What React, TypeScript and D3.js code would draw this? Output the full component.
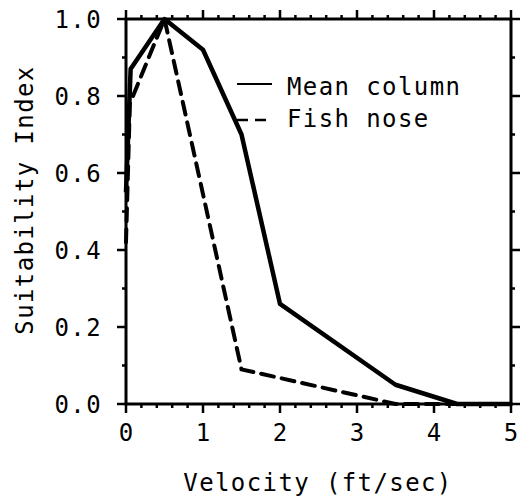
import React from "react";
import * as d3 from "d3";

const meanColumnX = [0, 0.06, 0.5, 1.0, 1.5, 2.0, 3.5, 4.3, 5.0];
const meanColumnY = [0.55, 0.87, 1.0, 0.92, 0.7, 0.26, 0.05, 0.0, 0.0];
const fishNoseX = [0, 0.05, 0.5, 1.5, 3.5, 5.0];
const fishNoseY = [0.42, 0.78, 1.0, 0.09, 0.0, 0.0];
const xMajorTicks = [0, 1, 2, 3, 4, 5];
const yMajorTicks = [0, 0.2, 0.4, 0.6, 0.8, 1.0];
const xMinorTicks = d3.range(0, 5.001, 0.2);
const yMinorTicks = d3.range(0, 1.001, 0.1);
const legendLabels = ["Mean column", "Fish nose"];
const xTitle = "Velocity (ft/sec)";
const yTitle = "Suitability Index";

const FONT = "'DejaVu Sans Mono', monospace";

export default function App() {
  const x = d3.scaleLinear().domain([0, 5]).range([126, 511]);
  const y = d3.scaleLinear().domain([0, 1]).range([404, 19]);
  const line = d3
    .line<[number, number]>()
    .x((d) => x(d[0]))
    .y((d) => y(d[1]));
  const solid = meanColumnX.map((v, i) => [v, meanColumnY[i]] as [number, number]);
  const dashed = fishNoseX.map((v, i) => [v, fishNoseY[i]] as [number, number]);
  const [x0, x1] = x.range();
  const [y0, y1] = y.range();
  const isMajorX = (t: number) => Math.abs(t - Math.round(t)) < 1e-6;
  const isMajorY = (t: number) => Math.abs(t * 5 - Math.round(t * 5)) < 1e-6;
  const textStyle: React.CSSProperties = { fontFamily: FONT, fontSize: 24, letterSpacing: 1.4 };

  return (
    <svg
      width={527}
      height={504}
      style={{ position: "absolute", left: 0, top: 0, background: "#fff" }}
    >
      {/* frame */}
      <rect x={x0} y={y1} width={x1 - x0} height={y0 - y1} fill="none" stroke="#000" strokeWidth={3} />
      {/* x ticks bottom & top */}
      {xMinorTicks.map((t, i) => {
        const L = isMajorX(t) ? 9 : 4;
        return (
          <g key={"xt" + i} stroke="#000" strokeWidth={2.5}>
            <line x1={x(t)} x2={x(t)} y1={y0} y2={y0 + L} />
            <line x1={x(t)} x2={x(t)} y1={y1} y2={y1 - L} />
          </g>
        );
      })}
      {yMinorTicks.map((t, i) => {
        const L = isMajorY(t) ? 9 : 4;
        return (
          <g key={"yt" + i} stroke="#000" strokeWidth={2.5}>
            <line x1={x0} x2={x0 - L} y1={y(t)} y2={y(t)} />
            <line x1={x1} x2={x1 + L} y1={y(t)} y2={y(t)} />
          </g>
        );
      })}
      {/* tick labels */}
      {xMajorTicks.map((t) => (
        <text key={"xl" + t} x={x(t) + 0.7} y={441} textAnchor="middle" style={textStyle} fill="#000">
          {String(t)}
        </text>
      ))}
      {yMajorTicks.map((t) => (
        <text key={"yl" + t} x={102} y={y(t) + 9} textAnchor="end" style={textStyle} fill="#000">
          {t.toFixed(1)}
        </text>
      ))}
      {/* axis titles */}
      <text x={318} y={491} textAnchor="middle" style={textStyle} fill="#000">
        {xTitle}
      </text>
      <text
        transform={`translate(33,200) rotate(-90)`}
        textAnchor="middle"
        style={textStyle}
        fill="#000"
      >
        {yTitle}
      </text>
      {/* data lines */}
      <path d={line(solid) || ""} fill="none" stroke="#000" strokeWidth={4.5} strokeLinejoin="round" />
      <path
        d={line(dashed) || ""}
        fill="none"
        stroke="#000"
        strokeWidth={4}
        strokeDasharray="13,8"
        strokeLinecap="round"
      />
      {/* legend */}
      <line x1={237} x2={272} y1={84} y2={84} stroke="#000" strokeWidth={2} />
      <line x1={237} x2={272} y1={120} y2={120} stroke="#000" strokeWidth={2.5} strokeDasharray="11,7" />
      <text x={287} y={95} style={textStyle} fill="#000">
        {legendLabels[0]}
      </text>
      <text x={287} y={127} style={textStyle} fill="#000">
        {legendLabels[1]}
      </text>
    </svg>
  );
}
